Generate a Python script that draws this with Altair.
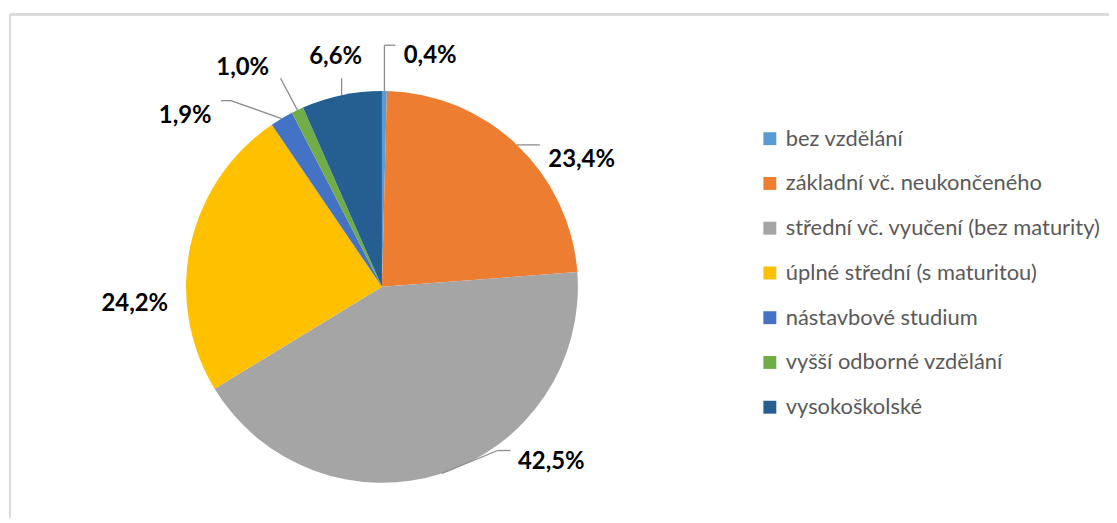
import math
import altair as alt
import pandas as pd

# ---- data ----
categories = [
    "bez vzdělání",
    "základní vč. neukončeného",
    "střední vč. vyučení (bez maturity)",
    "úplné střední (s maturitou)",
    "nástavbové studium",
    "vyšší odborné vzdělání",
    "vysokoškolské",
]
values = [0.4, 23.4, 42.5, 24.2, 1.9, 1.0, 6.6]
colors = ["#5B9BD5", "#ED7D31", "#A5A5A5", "#FFC000", "#4472C4", "#70AD47", "#255E91"]
labels = [f"{v:.1f}".replace(".", ",") + "%" for v in values]

df = pd.DataFrame({
    "cat": categories,
    "value": values,
    "label": labels,
    "idx": list(range(len(categories))),
})

# ---- layout (styling, not data) ----
W, H = 1105, 505
CX, CY, R = 374, 274, 197
label_offsets = {
    categories[0]: (46, -35),
    categories[1]: (65, 15),
    categories[2]: (110, -11),
    categories[3]: (-56, 59),
    categories[4]: (-97, -3),
    categories[5]: (-55, -42),
    categories[6]: (-6, -38),
}
leader_paths = {
    categories[0]: [(0, 0), (0, -46), (11, -46)],
    categories[1]: [(0, 0), (23, 0)],
    categories[2]: [(0, 0), (56, -23), (69, -23)],
    categories[4]: [(0, 0), (-51, -18), (-61, -18)],
    categories[5]: [(0, 0), (-17, -32)],
    categories[6]: [(0, 0), (0, -17)],
}

# leader segments, anchored at each slice's mid-angle on the rim
total = sum(values)
segs = []
cum = 0.0
for c, v in zip(categories, values):
    mid = (cum + v / 2) / total * 2 * math.pi
    cum += v
    ex, ey = CX + R * math.sin(mid), CY - R * math.cos(mid)
    pts = leader_paths.get(c)
    if not pts:
        continue
    for (ax, ay), (bx, by) in zip(pts[:-1], pts[1:]):
        segs.append({"x": ex + ax, "y": ey + ay, "x2": ex + bx, "y2": ey + by})
seg_df = pd.DataFrame(segs)

color_scale = alt.Scale(domain=categories, range=colors)

base = alt.Chart(df).encode(
    theta=alt.Theta("value:Q", stack=True),
    order=alt.Order("idx:Q"),
)

pie = base.mark_arc(radius=R).encode(
    x=alt.value(CX),
    y=alt.value(CY),
    color=alt.Color(
        "cat:N",
        scale=color_scale,
        sort=categories,
        legend=alt.Legend(
            title=None,
            orient="none",
            legendX=753,
            legendY=114,
            symbolType="square",
            symbolSize=169,
            symbolStrokeWidth=0,
            labelFont="Lato",
            labelFontSize=22,
            labelColor="#595959",
            labelOffset=5,
            rowPadding=23,
            labelLimit=500,
        ),
    ),
)

text_layers = []
for c in categories:
    dx, dy = label_offsets[c]
    t = base.mark_text(
        radius=R, dx=dx, dy=dy, font="Lato", fontSize=24, fontWeight="bold",
        color="#000000", align="center", baseline="middle",
    ).encode(
        x=alt.value(CX),
        y=alt.value(CY),
        text=alt.condition(alt.datum.cat == c, "label:N", alt.value("")),
    )
    text_layers.append(t)

leaders = alt.Chart(seg_df).mark_rule(color="#8C8C8C", strokeWidth=1.3).encode(
    x=alt.X("x:Q", scale=None),
    y=alt.Y("y:Q", scale=None),
    x2="x2:Q",
    y2="y2:Q",
)

border_top = alt.Chart(df).mark_rule(color="#DADADA", strokeWidth=2).encode(
    x=alt.value(0), x2=alt.value(W + 20), y=alt.value(0)
)
border_left = alt.Chart(df).mark_rule(color="#DADADA", strokeWidth=2).encode(
    x=alt.value(0), y=alt.value(0), y2=alt.value(H + 20)
)

chart = alt.layer(border_top, border_left, pie, leaders, *text_layers).properties(
    width=W,
    height=H,
    padding={"left": 2, "top": 5, "right": 0, "bottom": 0},
    autosize=alt.AutoSizeParams(type="none"),
    background="#FFFFFF",
).configure_view(stroke=None)

chart.save("out.html", embed_options={"renderer": "svg", "actions": False})
